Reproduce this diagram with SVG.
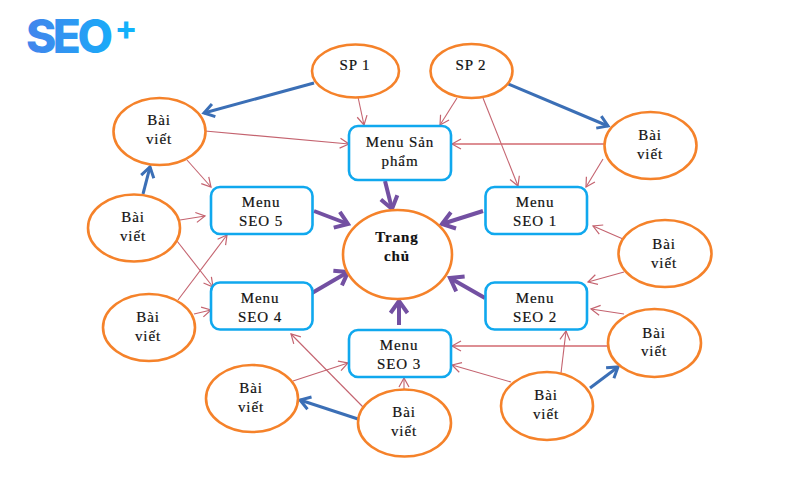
<svg xmlns="http://www.w3.org/2000/svg" width="800" height="500" viewBox="0 0 800 500">
<style>
.n{fill:#fff;stroke:#f5822a;stroke-width:2.6}
.b{fill:#fff;stroke:#10a8ee;stroke-width:2.6}
text{font-family:"Liberation Serif","Times New Roman",serif;font-size:15px;letter-spacing:.9px;fill:#111;stroke:#111;stroke-width:.2;text-anchor:middle}
.t{font-weight:bold}
.logo{font-family:Inter,"Liberation Sans",sans-serif;font-size:46px;font-weight:800;letter-spacing:-3.500px;fill:url(#lg);stroke:none;text-anchor:start}
.plus{font-size:34px;font-weight:700}
.r{stroke:#c4636f;stroke-width:1.1;fill:none;marker-end:url(#mr)}
.rw{stroke:#d2696f;stroke-width:1.7;fill:none;marker-end:url(#mr)}
.u{stroke:#3b6fb6;stroke-width:3;fill:none;marker-end:url(#mu)}
.p{stroke:#7350a2;stroke-width:4;fill:none;marker-end:url(#mp)}
</style>
<defs>
<linearGradient id="lg" gradientUnits="userSpaceOnUse" x1="28" y1="0" x2="134" y2="0"><stop offset="0" stop-color="#4285ec"/><stop offset="1" stop-color="#0fb4fc"/></linearGradient>
<marker id="mr" markerUnits="userSpaceOnUse" markerWidth="14" markerHeight="14" refX="11" refY="7" orient="auto"><path d="M2 2L11 7L2 12" fill="none" stroke="#c4636f" stroke-width="1.2"/></marker>
<marker id="mu" markerUnits="userSpaceOnUse" markerWidth="16" markerHeight="18" refX="13" refY="9" orient="auto"><path d="M3 2.500L13 9L3 15.500" fill="none" stroke="#3b6fb6" stroke-width="3"/></marker>
<marker id="mp" markerUnits="userSpaceOnUse" markerWidth="20" markerHeight="24" refX="17" refY="12" orient="auto"><path d="M5 3.500L17 12L5 20.500" fill="none" stroke="#7350a2" stroke-width="4"/></marker>
</defs>
<rect width="800" height="500" fill="#fff"/>
<g id="logo">
<text class="logo" x="26" y="53">SEO<tspan class="plus" dx="5" dy="-13">+</tspan></text>
</g>
<g id="connectors">
<line class="r" x1="358" y1="97" x2="364" y2="125"/>
<line class="r" x1="457" y1="98" x2="440" y2="125"/>
<line class="r" x1="483" y1="98" x2="518" y2="186"/>
<line class="rw" x1="604" y1="144" x2="452" y2="144"/>
<line class="r" x1="603" y1="159" x2="586" y2="187"/>
<line class="r" x1="623" y1="239" x2="593" y2="226"/>
<line class="r" x1="624" y1="272" x2="588" y2="282"/>
<line class="r" x1="624" y1="314" x2="591" y2="309"/>
<line class="rw" x1="608" y1="346" x2="452" y2="346"/>
<line class="r" x1="561" y1="373" x2="566" y2="331"/>
<line class="r" x1="511" y1="382" x2="452" y2="365"/>
<line class="r" x1="404" y1="389" x2="404" y2="378"/>
<line class="r" x1="363" y1="407" x2="291" y2="334"/>
<line class="r" x1="293" y1="381" x2="348" y2="363"/>
<line class="r" x1="194" y1="314" x2="211" y2="310"/>
<line class="r" x1="178" y1="300" x2="227" y2="235"/>
<line class="r" x1="177" y1="241" x2="213" y2="287"/>
<line class="r" x1="180" y1="220" x2="205" y2="216"/>
<line class="r" x1="187" y1="160" x2="211" y2="187"/>
<line class="r" x1="205" y1="131" x2="349" y2="144"/>
<line class="u" x1="314" y1="83" x2="204" y2="113"/>
<line class="u" x1="506" y1="83" x2="608" y2="126"/>
<line class="u" x1="143" y1="194" x2="150" y2="167"/>
<line class="u" x1="358" y1="419" x2="300" y2="400"/>
<line class="u" x1="590" y1="388" x2="618" y2="367"/>
<line class="p" x1="385" y1="181" x2="392" y2="209"/>
<line class="p" x1="314" y1="211" x2="348" y2="224"/>
<line class="p" x1="483" y1="211" x2="442" y2="224"/>
<line class="p" x1="312" y1="293" x2="348" y2="272"/>
<line class="p" x1="485" y1="298" x2="450" y2="278"/>
<line class="p" x1="399" y1="325" x2="399" y2="301"/>
</g>
<g id="sp1"><ellipse class="n" cx="355.500" cy="71" rx="43.500" ry="26.500"/><text x="355" y="70">SP 1</text></g>
<g id="sp2"><ellipse class="n" cx="471.500" cy="71" rx="41" ry="27"/><text x="471" y="70">SP 2</text></g>
<g id="bv-top-left"><ellipse class="n" cx="159.500" cy="131.500" rx="46" ry="33.500"/><text x="159" y="125">Bài</text><text x="159" y="144">viết</text></g>
<g id="bv-top-right"><ellipse class="n" cx="650.500" cy="145.500" rx="46" ry="33.500"/><text x="650" y="140">Bài</text><text x="650" y="159">viết</text></g>
<g id="bv-left-1"><ellipse class="n" cx="134" cy="228" rx="46" ry="33.500"/><text x="133" y="222">Bài</text><text x="133" y="241">viết</text></g>
<g id="bv-left-2"><ellipse class="n" cx="149" cy="327.500" rx="46" ry="33.500"/><text x="148" y="322">Bài</text><text x="148" y="341">viết</text></g>
<g id="bv-bottom-left"><ellipse class="n" cx="252" cy="398.500" rx="46" ry="33.500"/><text x="251" y="393">Bài</text><text x="251" y="412">viết</text></g>
<g id="bv-bottom-center"><ellipse class="n" cx="404.500" cy="423" rx="46.500" ry="33.500"/><text x="404" y="417">Bài</text><text x="404" y="436">viết</text></g>
<g id="bv-bottom-right"><ellipse class="n" cx="547" cy="406" rx="46" ry="34"/><text x="546" y="400">Bài</text><text x="546" y="419">viết</text></g>
<g id="bv-right-lower"><ellipse class="n" cx="654.500" cy="343" rx="46.500" ry="34"/><text x="654" y="338">Bài</text><text x="654" y="356">viết</text></g>
<g id="bv-right-mid"><ellipse class="n" cx="665" cy="253.500" rx="46.500" ry="33.500"/><text x="664" y="249">Bài</text><text x="664" y="268">viết</text></g>
<g id="menu-san-pham"><rect class="b" x="349" y="126" width="102" height="54" rx="9"/><text x="400" y="147">Menu Sản</text><text x="400" y="166">phẩm</text></g>
<g id="menu-seo-5"><rect class="b" x="211" y="187" width="101.500" height="47" rx="9"/><text x="261" y="207">Menu</text><text x="261" y="226">SEO 5</text></g>
<g id="menu-seo-1"><rect class="b" x="485.500" y="187" width="101.500" height="47" rx="9"/><text x="535" y="207">Menu</text><text x="535" y="226">SEO 1</text></g>
<g id="menu-seo-4"><rect class="b" x="211" y="282.500" width="101.500" height="47" rx="9"/><text x="260" y="303">Menu</text><text x="260" y="322">SEO 4</text></g>
<g id="menu-seo-2"><rect class="b" x="485.500" y="282.500" width="101.500" height="47" rx="9"/><text x="535" y="303">Menu</text><text x="535" y="322">SEO 2</text></g>
<g id="menu-seo-3"><rect class="b" x="349" y="330" width="102" height="47" rx="9"/><text x="399" y="350">Menu</text><text x="399" y="369">SEO 3</text></g>
<g id="trang-chu"><ellipse class="n" cx="397.500" cy="254.500" rx="54.500" ry="44.500"/><text class="t" x="397" y="242">Trang</text><text class="t" x="397" y="261">chủ</text></g>
</svg>
